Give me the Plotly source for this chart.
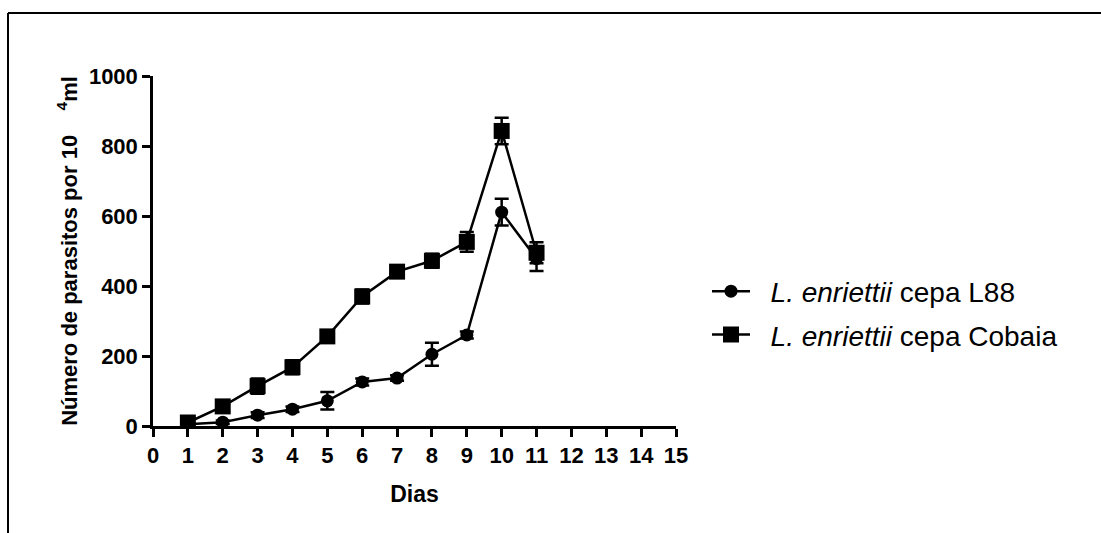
import plotly.graph_objects as go

dias = [1, 2, 3, 4, 5, 6, 7, 8, 9, 10, 11]
l88 = [5, 11, 31, 48, 72, 126, 137, 205, 260, 611, 478]
l88_err = [3, 5, 8, 8, 25, 10, 8, 33, 10, 38, 35]
cobaia = [10, 56, 114, 168, 256, 370, 441, 472, 526, 843, 495]
cobaia_err = [5, 12, 22, 20, 10, 20, 10, 20, 28, 38, 30]

x_ticks = list(range(0, 16))
y_ticks = [0, 200, 400, 600, 800, 1000]

W, H = 1101, 533
L, R, T, B = 153, 676, 76, 426

FONT = "Arial, Liberation Sans, sans-serif"
SP = "\u00a0\u00a0"

fig = go.Figure()
fig.add_trace(go.Scatter(
    x=dias, y=l88, mode="lines+markers",
    name=SP + "<i>L. enriettii</i> cepa L88", legendgroup="a",
    line=dict(color="black", width=2.5),
    marker=dict(symbol="circle", size=13, color="black"),
    error_y=dict(type="data", array=l88_err, color="black", thickness=2.5, width=7),
))
fig.add_trace(go.Scatter(
    x=dias, y=cobaia, mode="lines+markers",
    name=SP + "<i>L. enriettii</i> cepa Cobaia", legendgroup="b",
    line=dict(color="black", width=2.5),
    marker=dict(symbol="square", size=16, color="black"),
    error_y=dict(type="data", array=cobaia_err, color="black", thickness=2.5, width=7),
))

def px(xp):
    return (xp - L) / (R - L)

def py(yp):
    return (B - yp) / (B - T)

fig.add_shape(type="line", xref="paper", yref="paper",
              x0=px(8), x1=px(W + 5), y0=py(13), y1=py(13),
              line=dict(color="black", width=2))
fig.add_shape(type="line", xref="paper", yref="paper",
              x0=px(8), x1=px(8), y0=py(13), y1=py(H + 5),
              line=dict(color="black", width=2))

fig.update_layout(
    width=W, height=H,
    margin=dict(l=L, r=W - R, t=T, b=H - B),
    paper_bgcolor="white", plot_bgcolor="white",
    font=dict(family=FONT, color="black"),
    showlegend=True,
    legend=dict(x=px(707), y=py(313), xanchor="left", yanchor="middle",
                font=dict(family=FONT, size=28, color="black"),
                traceorder="grouped", tracegroupgap=4, itemwidth=38,
                bgcolor="rgba(0,0,0,0)"),
    xaxis=dict(range=[0, 15], tickvals=x_ticks, ticktext=[f"<b>{v}</b>" for v in x_ticks],
               showgrid=False, zeroline=False, showline=True, linecolor="black", linewidth=2.5,
               ticks="outside", ticklen=8, tickwidth=2.5, tickcolor="black",
               tickfont=dict(family=FONT, size=22, color="black"),
               title=dict(text="<b>Dias</b>", font=dict(family=FONT, size=23, color="black"), standoff=19),
               automargin=False),
    yaxis=dict(range=[0, 1000], tickvals=y_ticks, ticktext=[f"<b>{v}</b>" for v in y_ticks],
               showgrid=False, zeroline=False, showline=True, linecolor="black", linewidth=2.5,
               ticks="outside", ticklen=8, tickwidth=2.5, tickcolor="black",
               tickfont=dict(family=FONT, size=22, color="black"),
               title=dict(text="<b>Número de parasitos por 10\u00a0\u00a0\u00a0\u00a0<sup>4</sup>ml</b>",
                          font=dict(family=FONT, size=22, color="black"), standoff=6),
               automargin=False),
)

fig.write_html("out.html", config={"displayModeBar": False},
               post_script="document.body.style.margin='0';")
